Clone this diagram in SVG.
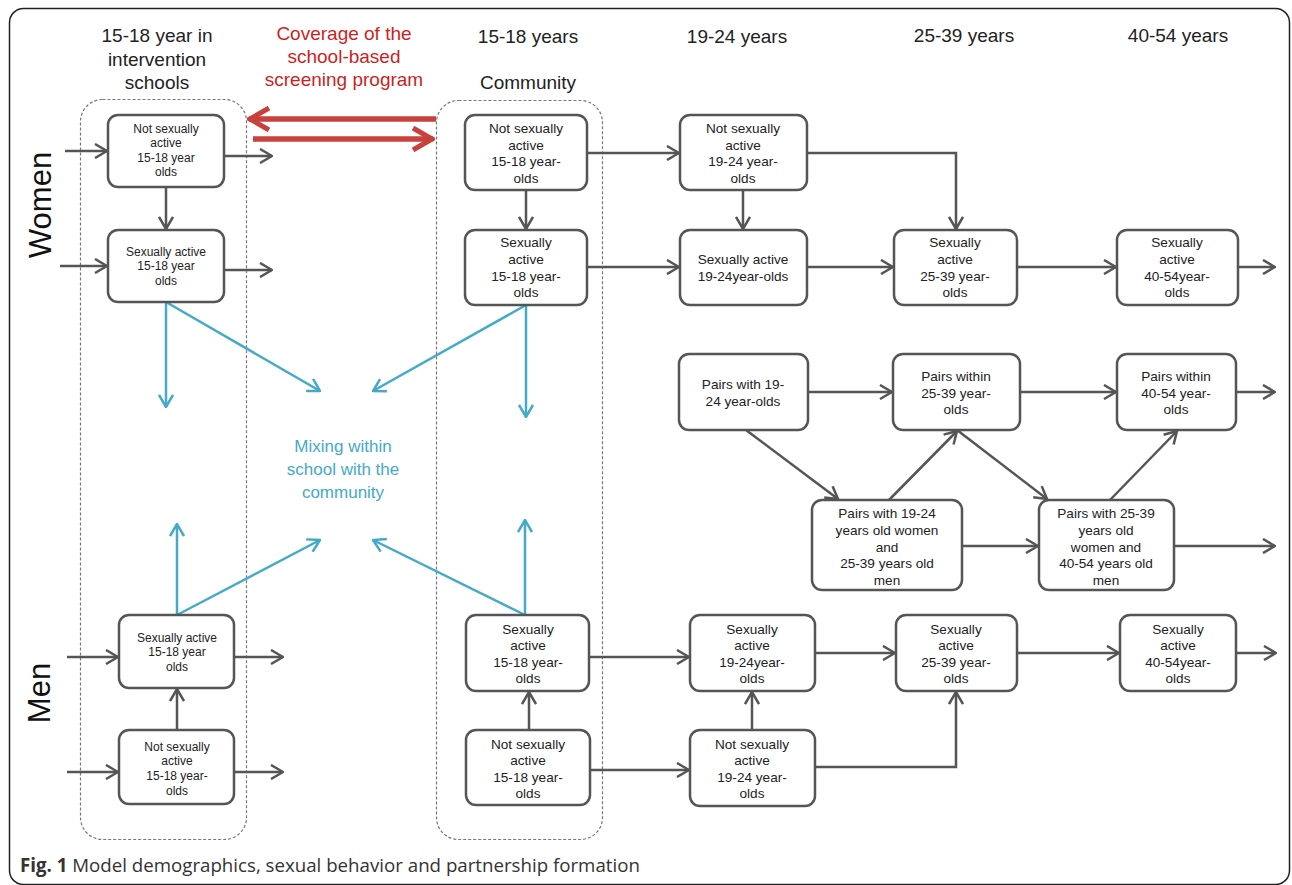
<svg xmlns="http://www.w3.org/2000/svg" width="1292" height="885" viewBox="0 0 1292 885">
<defs>
<style>
.frame{fill:none;stroke:#222;stroke-width:1.5}
.dash{fill:none;stroke:#777;stroke-width:1.2;stroke-dasharray:3 2}
.node{fill:#fff;stroke:#555;stroke-width:2.5}
.t12{font-family:"Liberation Sans",Arial,sans-serif;font-size:12px;fill:#222;text-anchor:middle}
.t14{font-family:"Liberation Sans",Arial,sans-serif;font-size:13.6px;fill:#222;text-anchor:middle}
.hdr{font-family:"Liberation Sans",Arial,sans-serif;font-size:19px;fill:#222;text-anchor:middle}
.red{font-family:"Liberation Sans",Arial,sans-serif;font-size:19px;fill:#cc1f1f;text-anchor:middle}
.mix{font-family:"Liberation Sans",Arial,sans-serif;font-size:17px;fill:#45a9c8;text-anchor:middle}
.side{font-family:"Liberation Sans",Arial,sans-serif;font-size:31px;fill:#111;text-anchor:middle}
.cap{font-family:"Open Sans","Liberation Sans",sans-serif;font-size:18.7px;fill:#333}
.g{fill:none;stroke:#555;stroke-width:2.5;marker-end:url(#ag)}
.b{fill:none;stroke:#45a9c8;stroke-width:2.5;marker-end:url(#ab)}
.r{fill:none;stroke:#c8413c;stroke-width:5.5;marker-end:url(#ar)}
</style>
<marker id="ag" viewBox="0 0 14 16" refX="13" refY="8" markerWidth="14" markerHeight="16" markerUnits="userSpaceOnUse" orient="auto">
<path d="M1,1 L13,8 L1,15" fill="none" stroke="#555" stroke-width="2.5"/>
</marker>
<marker id="ab" viewBox="0 0 14 16" refX="13" refY="8" markerWidth="14" markerHeight="16" markerUnits="userSpaceOnUse" orient="auto">
<path d="M1,1 L13,8 L1,15" fill="none" stroke="#45a9c8" stroke-width="2.5"/>
</marker>
<marker id="ar" viewBox="0 0 24 26" refX="22" refY="13" markerWidth="24" markerHeight="26" markerUnits="userSpaceOnUse" orient="auto">
<path d="M2,2 L21,13 L2,24" fill="none" stroke="#c8413c" stroke-width="5"/>
</marker>
</defs>
<rect x="0" y="0" width="1292" height="885" fill="#fff"/>
<rect class="frame" x="9.5" y="8.5" width="1280" height="876" rx="14"/>

<g id="headers">
<text class="hdr" x="157" y="42">15-18 year in</text>
<text class="hdr" x="157" y="66">intervention</text>
<text class="hdr" x="157" y="89">schools</text>
<text class="red" x="344" y="40">Coverage of the</text>
<text class="red" x="344" y="63">school-based</text>
<text class="red" x="344" y="86">screening program</text>
<text class="hdr" x="528" y="43">15-18 years</text>
<text class="hdr" x="528" y="89">Community</text>
<text class="hdr" x="737" y="43">19-24 years</text>
<text class="hdr" x="964" y="42">25-39 years</text>
<text class="hdr" x="1178" y="42">40-54 years</text>
<text class="side" transform="translate(51,205) rotate(-90)">Women</text>
<text class="side" transform="translate(50,693) rotate(-90)">Men</text>
</g>

<g id="groups">
<rect class="dash" x="80.5" y="99.5" width="166" height="740" rx="22"/>
<rect class="dash" x="436.5" y="100.5" width="166" height="739" rx="22"/>
</g>

<g id="connectors">
<path class="r" d="M436,119 H249"/>
<path class="r" d="M253,139 H433"/>
<path class="g" d="M65,151 H107"/>
<path class="g" d="M224,156 H272"/>
<path class="g" d="M166,187 V229"/>
<path class="g" d="M60,266 H107"/>
<path class="g" d="M224,270 H272"/>
<path class="g" d="M526,190 V229"/>
<path class="g" d="M587,153 H679"/>
<path class="g" d="M743,190 V229"/>
<path class="g" d="M587,267 H679"/>
<path class="g" d="M807,153 H956 V229"/>
<path class="g" d="M807,267 H893"/>
<path class="g" d="M1017,267 H1116"/>
<path class="g" d="M1238,267 H1275"/>
<path class="g" d="M808,392 H892"/>
<path class="g" d="M1020,392 H1116"/>
<path class="g" d="M1236,392 H1275"/>
<path class="g" d="M746,430 L838,499"/>
<path class="g" d="M889,500 L957,431"/>
<path class="g" d="M957,430 L1047,499"/>
<path class="g" d="M1110,500 L1177,431"/>
<path class="g" d="M962,546 H1038"/>
<path class="g" d="M1174,546 H1275"/>
<path class="g" d="M67,657 H118"/>
<path class="g" d="M234,657 H283"/>
<path class="g" d="M67,772 H118"/>
<path class="g" d="M234,772 H283"/>
<path class="g" d="M177,730 V689"/>
<path class="g" d="M529,730 V692"/>
<path class="g" d="M589,657 H689"/>
<path class="g" d="M590,770 H689"/>
<path class="g" d="M752,730 V692"/>
<path class="g" d="M815,653 H895"/>
<path class="g" d="M815,767 H956 V692"/>
<path class="g" d="M1017,653 H1119"/>
<path class="g" d="M1236,653 H1276"/>
<path class="b" d="M166,302 V407"/>
<path class="b" d="M166,302 L320,391"/>
<path class="b" d="M526,305 V417"/>
<path class="b" d="M526,305 L373,391"/>
<path class="b" d="M177,615 V524"/>
<path class="b" d="M177,615 L320,540"/>
<path class="b" d="M525,615 V520"/>
<path class="b" d="M525,615 L373,540"/>
</g>

<g id="mixing">
<text class="mix" x="343" y="452">Mixing within</text>
<text class="mix" x="343" y="475">school with the</text>
<text class="mix" x="343" y="498">community</text>
</g>

<g id="school-women-nsa">
<rect class="node" x="108" y="115" width="116" height="72" rx="10"/>
<text class="t12" x="166" y="133">Not sexually</text>
<text class="t12" x="166" y="147">active</text>
<text class="t12" x="166" y="162">15-18 year</text>
<text class="t12" x="166" y="176">olds</text>
</g>
<g id="school-women-sa">
<rect class="node" x="108" y="230" width="116" height="72" rx="10"/>
<text class="t12" x="166" y="256">Sexually active</text>
<text class="t12" x="166" y="270">15-18 year</text>
<text class="t12" x="166" y="285">olds</text>
</g>
<g id="comm-women-nsa">
<rect class="node" x="465" y="115" width="122" height="75" rx="10"/>
<text class="t14" x="526" y="133">Not sexually</text>
<text class="t14" x="526" y="150">active</text>
<text class="t14" x="526" y="166">15-18 year-</text>
<text class="t14" x="526" y="183">olds</text>
</g>
<g id="comm-women-sa">
<rect class="node" x="465" y="230" width="122" height="75" rx="10"/>
<text class="t14" x="526" y="247">Sexually</text>
<text class="t14" x="526" y="264">active</text>
<text class="t14" x="526" y="281">15-18 year-</text>
<text class="t14" x="526" y="297">olds</text>
</g>
<g id="women-nsa-19-24">
<rect class="node" x="680" y="115" width="127" height="75" rx="10"/>
<text class="t14" x="743" y="133">Not sexually</text>
<text class="t14" x="743" y="150">active</text>
<text class="t14" x="743" y="166">19-24 year-</text>
<text class="t14" x="743" y="183">olds</text>
</g>
<g id="women-sa-19-24">
<rect class="node" x="680" y="230" width="127" height="75" rx="10"/>
<text class="t14" x="743" y="264">Sexually active</text>
<text class="t14" x="743" y="281">19-24year-olds</text>
</g>
<g id="women-sa-25-39">
<rect class="node" x="894" y="230" width="123" height="75" rx="10"/>
<text class="t14" x="955" y="247">Sexually</text>
<text class="t14" x="955" y="264">active</text>
<text class="t14" x="955" y="281">25-39 year-</text>
<text class="t14" x="955" y="297">olds</text>
</g>
<g id="women-sa-40-54">
<rect class="node" x="1117" y="230" width="121" height="75" rx="10"/>
<text class="t14" x="1177" y="247">Sexually</text>
<text class="t14" x="1177" y="264">active</text>
<text class="t14" x="1177" y="281">40-54year-</text>
<text class="t14" x="1177" y="297">olds</text>
</g>

<g id="pairs-19-24">
<rect class="node" x="679" y="354" width="129" height="76" rx="10"/>
<text class="t14" x="743" y="389">Pairs with 19-</text>
<text class="t14" x="743" y="406">24 year-olds</text>
</g>
<g id="pairs-25-39">
<rect class="node" x="893" y="354" width="127" height="76" rx="10"/>
<text class="t14" x="956" y="381">Pairs within</text>
<text class="t14" x="956" y="398">25-39 year-</text>
<text class="t14" x="956" y="414">olds</text>
</g>
<g id="pairs-40-54">
<rect class="node" x="1117" y="354" width="119" height="76" rx="10"/>
<text class="t14" x="1176" y="381">Pairs within</text>
<text class="t14" x="1176" y="398">40-54 year-</text>
<text class="t14" x="1176" y="414">olds</text>
</g>
<g id="pairs-19-24w-25-39m">
<rect class="node" x="812" y="500" width="150" height="90" rx="10"/>
<text class="t14" x="887" y="518">Pairs with 19-24</text>
<text class="t14" x="887" y="535">years old women</text>
<text class="t14" x="887" y="552">and</text>
<text class="t14" x="887" y="568">25-39 years old</text>
<text class="t14" x="887" y="585">men</text>
</g>
<g id="pairs-25-39w-40-54m">
<rect class="node" x="1039" y="500" width="135" height="90" rx="10"/>
<text class="t14" x="1106" y="518">Pairs with 25-39</text>
<text class="t14" x="1106" y="535">years old</text>
<text class="t14" x="1106" y="552">women and</text>
<text class="t14" x="1106" y="568">40-54 years old</text>
<text class="t14" x="1106" y="585">men</text>
</g>

<g id="school-men-sa">
<rect class="node" x="119" y="615" width="115" height="73" rx="10"/>
<text class="t12" x="177" y="642">Sexually active</text>
<text class="t12" x="177" y="656">15-18 year</text>
<text class="t12" x="177" y="671">olds</text>
</g>
<g id="school-men-nsa">
<rect class="node" x="119" y="730" width="115" height="74" rx="10"/>
<text class="t12" x="177" y="751">Not sexually</text>
<text class="t12" x="177" y="765">active</text>
<text class="t12" x="177" y="780">15-18 year-</text>
<text class="t12" x="177" y="795">olds</text>
</g>
<g id="comm-men-sa">
<rect class="node" x="466" y="615" width="123" height="76" rx="10"/>
<text class="t14" x="528" y="634">Sexually</text>
<text class="t14" x="528" y="650">active</text>
<text class="t14" x="528" y="667">15-18 year-</text>
<text class="t14" x="528" y="683">olds</text>
</g>
<g id="comm-men-nsa">
<rect class="node" x="466" y="730" width="124" height="75" rx="10"/>
<text class="t14" x="528" y="749">Not sexually</text>
<text class="t14" x="528" y="765">active</text>
<text class="t14" x="528" y="782">15-18 year-</text>
<text class="t14" x="528" y="798">olds</text>
</g>
<g id="men-sa-19-24">
<rect class="node" x="690" y="615" width="125" height="76" rx="10"/>
<text class="t14" x="752" y="634">Sexually</text>
<text class="t14" x="752" y="650">active</text>
<text class="t14" x="752" y="667">19-24year-</text>
<text class="t14" x="752" y="683">olds</text>
</g>
<g id="men-nsa-19-24">
<rect class="node" x="690" y="730" width="125" height="76" rx="10"/>
<text class="t14" x="752" y="749">Not sexually</text>
<text class="t14" x="752" y="765">active</text>
<text class="t14" x="752" y="782">19-24 year-</text>
<text class="t14" x="752" y="798">olds</text>
</g>
<g id="men-sa-25-39">
<rect class="node" x="896" y="615" width="121" height="76" rx="10"/>
<text class="t14" x="956" y="634">Sexually</text>
<text class="t14" x="956" y="650">active</text>
<text class="t14" x="956" y="667">25-39 year-</text>
<text class="t14" x="956" y="683">olds</text>
</g>
<g id="men-sa-40-54">
<rect class="node" x="1120" y="615" width="116" height="76" rx="10"/>
<text class="t14" x="1178" y="634">Sexually</text>
<text class="t14" x="1178" y="650">active</text>
<text class="t14" x="1178" y="667">40-54year-</text>
<text class="t14" x="1178" y="683">olds</text>
</g>

<text class="cap" x="20" y="872"><tspan font-weight="bold">Fig. 1</tspan> Model demographics, sexual behavior and partnership formation</text>
</svg>
